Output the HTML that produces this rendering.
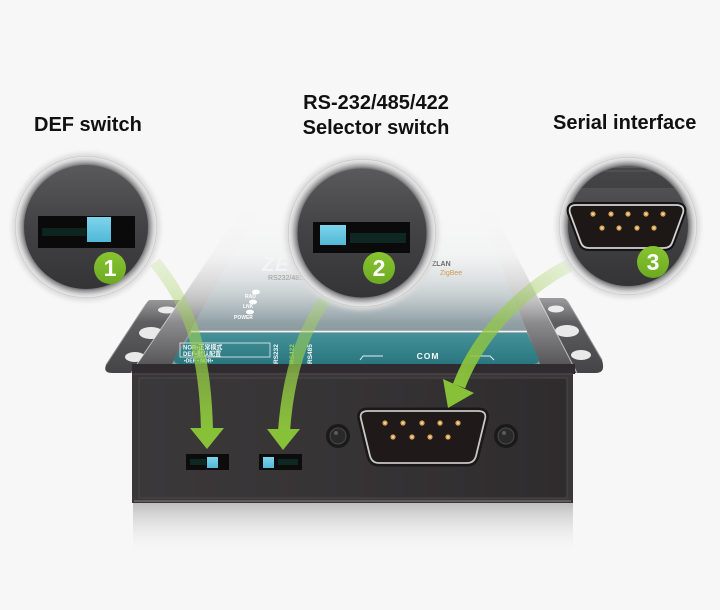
<!DOCTYPE html>
<html><head><meta charset="utf-8">
<style>
html,body{margin:0;padding:0;background:#f7f7f7;}
svg{display:block;}
.t{font-family:"Liberation Sans",Arial,sans-serif;font-weight:bold;}
</style></head><body>
<svg width="720" height="610" viewBox="0 0 720 610" xmlns="http://www.w3.org/2000/svg">
<defs>
 <linearGradient id="rim" x1="0" y1="212" x2="0" y2="373" gradientUnits="userSpaceOnUse">
  <stop offset="0" stop-color="#e2e2e4"/><stop offset="0.55" stop-color="#a8a8aa"/><stop offset="1" stop-color="#4c4b4d"/>
 </linearGradient>
 <linearGradient id="surf" x1="0" y1="212" x2="0" y2="331" gradientUnits="userSpaceOnUse">
  <stop offset="0" stop-color="#eceff0"/><stop offset="1" stop-color="#8a9ba0"/>
 </linearGradient>
 <linearGradient id="teal" x1="0" y1="332" x2="0" y2="364" gradientUnits="userSpaceOnUse">
  <stop offset="0" stop-color="#45929a"/><stop offset="1" stop-color="#2a7680"/>
 </linearGradient>
 <linearGradient id="fade" x1="0" y1="200" x2="0" y2="322" gradientUnits="userSpaceOnUse">
  <stop offset="0" stop-color="#f7f7f7" stop-opacity="1"/>
  <stop offset="0.45" stop-color="#f7f7f7" stop-opacity="0.9"/>
  <stop offset="0.75" stop-color="#f7f7f7" stop-opacity="0.45"/>
  <stop offset="1" stop-color="#f7f7f7" stop-opacity="0"/>
 </linearGradient>
 <linearGradient id="front" x1="0" y1="0" x2="1" y2="0">
  <stop offset="0" stop-color="#3b383a"/><stop offset="0.5" stop-color="#363335"/><stop offset="1" stop-color="#2f2c2e"/>
 </linearGradient>
 <linearGradient id="refl" x1="0" y1="503" x2="0" y2="555" gradientUnits="userSpaceOnUse">
  <stop offset="0" stop-color="#bfbfbf"/><stop offset="1" stop-color="#f7f7f7" stop-opacity="0"/>
 </linearGradient>
 <linearGradient id="ear" x1="0" y1="0" x2="0" y2="1">
  <stop offset="0" stop-color="#6a6a6c"/><stop offset="1" stop-color="#444446"/>
 </linearGradient>
 <radialGradient id="ring" cx="0.5" cy="0.5" r="0.5">
  <stop offset="0.87" stop-color="#6e6e70"/>
  <stop offset="0.9" stop-color="#9a9a9c"/>
  <stop offset="0.95" stop-color="#d2d2d2"/>
  <stop offset="0.985" stop-color="#e6e6e6"/>
  <stop offset="1" stop-color="#bdbdbd"/>
 </radialGradient>
 <linearGradient id="disc" x1="0" y1="0" x2="0" y2="1">
  <stop offset="0" stop-color="#5a5a5c"/><stop offset="0.45" stop-color="#444446"/><stop offset="1" stop-color="#343436"/>
 </linearGradient>
 <linearGradient id="badge" x1="0" y1="0" x2="0" y2="1">
  <stop offset="0" stop-color="#88c531"/><stop offset="1" stop-color="#6daa22"/>
 </linearGradient>
 <linearGradient id="knob" x1="0" y1="0" x2="0" y2="1">
  <stop offset="0" stop-color="#7dd4ec"/><stop offset="1" stop-color="#52b8d6"/>
 </linearGradient>
 <linearGradient id="a1" x1="0" y1="262" x2="0" y2="430" gradientUnits="userSpaceOnUse">
  <stop offset="0" stop-color="#b5d97a" stop-opacity="0.25"/>
  <stop offset="0.55" stop-color="#95c948" stop-opacity="0.7"/>
  <stop offset="1" stop-color="#89c23a" stop-opacity="1"/>
 </linearGradient>
 <linearGradient id="a2" x1="0" y1="280" x2="0" y2="430" gradientUnits="userSpaceOnUse">
  <stop offset="0" stop-color="#b5d97a" stop-opacity="0.25"/>
  <stop offset="0.55" stop-color="#95c948" stop-opacity="0.7"/>
  <stop offset="1" stop-color="#89c23a" stop-opacity="1"/>
 </linearGradient>
 <linearGradient id="a3" x1="570" y1="265" x2="460" y2="385" gradientUnits="userSpaceOnUse">
  <stop offset="0" stop-color="#b5d97a" stop-opacity="0.25"/>
  <stop offset="0.55" stop-color="#95c948" stop-opacity="0.7"/>
  <stop offset="1" stop-color="#89c23a" stop-opacity="1"/>
 </linearGradient>
 <filter id="blur" x="-20%" y="-20%" width="140%" height="140%"><feGaussianBlur stdDeviation="2.5"/></filter>
 <clipPath id="c3"><circle cx="628" cy="226" r="60"/></clipPath>
</defs>

<rect x="0" y="0" width="720" height="610" fill="#f7f7f7"/>

<!-- Titles -->
<text class="t" x="34" y="131" font-size="20" fill="#111">DEF switch</text>
<text class="t" x="376" y="109" font-size="20" fill="#111" text-anchor="middle">RS-232/485/422</text>
<text class="t" x="376" y="134" font-size="20" fill="#111" text-anchor="middle">Selector switch</text>
<text class="t" x="553" y="129" font-size="20" fill="#111">Serial interface</text>

<!-- Ears -->
<path d="M150 300 L182 300 L182 373 L112 373 Q103 373 106 365 L146 304 Q148 300 150 300 Z" fill="url(#ear)"/>
<path d="M146 304 L106 365" stroke="#8c8c8e" stroke-width="1"/>
<ellipse cx="167" cy="310" rx="9" ry="3.5" fill="#e9e9e9"/>
<ellipse cx="151" cy="333" rx="12" ry="6" fill="#e9e9e9"/>
<ellipse cx="135" cy="357" rx="10" ry="5" fill="#e9e9e9"/>

<path d="M535 298 L562 298 Q566 298 568 302 L602 360 Q606 373 596 373 L570 373 Z" fill="url(#ear)"/>
<path d="M568 302 L602 360" stroke="#8c8c8e" stroke-width="1"/>
<ellipse cx="556" cy="309" rx="8" ry="3.5" fill="#e9e9e9"/>
<ellipse cx="567" cy="331" rx="12" ry="6" fill="#e9e9e9"/>
<ellipse cx="581" cy="355" rx="10" ry="5" fill="#e9e9e9"/>

<!-- Cover -->
<polygon points="240,212 494,212 577,373 131,373" fill="url(#rim)"/>
<path d="M240 212 L131 373 M494 212 L577 373" stroke="#e4e4e4" stroke-width="1" opacity="0.7"/>
<polygon points="256,212 480,212 540,364 172,364" fill="url(#surf)"/>
<line x1="191" y1="331.5" x2="527" y2="331.5" stroke="#f3f6f6" stroke-width="1.6"/>
<path d="M192 333 L527 333 L538 357 Q541 364 533 364 L180 364 Q172 364 175 357 Z" fill="url(#teal)"/>

<!-- Top labels -->
<g fill="#f4f8f8" font-family="Liberation Sans, Arial, 'Noto Sans CJK SC', sans-serif">
 <rect x="180" y="343" width="90" height="14" fill="none" stroke="#eaf2f2" stroke-width="0.8"/>
 <text x="183" y="349.5" font-size="6" font-weight="bold">NOR•正常模式</text>
 <text x="183" y="356" font-size="6" font-weight="bold">DEF•默认配置</text>
 <text x="184" y="362.5" font-size="5" font-weight="bold">•DEF • NOR•</text>
 <text transform="translate(278,364) rotate(-90)" font-size="6.5" font-weight="bold">RS232</text>
 <text transform="translate(294,364) rotate(-90)" font-size="6.5" font-weight="bold" fill="#a9d45a">RS422</text>
 <text transform="translate(312,364) rotate(-90)" font-size="6.5" font-weight="bold">RS485</text>
 <text x="428" y="359" font-size="8.5" font-weight="bold" text-anchor="middle" letter-spacing="1">COM</text>
</g>
<path d="M360 360 L363 356 L383 356 M470 356 L490 356 L494 360" stroke="#e4eeee" stroke-width="1" fill="none"/>

<!-- Lip -->
<rect x="132" y="364" width="443" height="10" fill="#2e2c2e"/>

<!-- Fade overlay -->
<rect x="95" y="200" width="520" height="122" fill="url(#fade)"/>

<!-- Logo and LED marks -->
<text class="t" x="262" y="271" font-size="20" font-style="italic" fill="#f4f4f4" letter-spacing="1">ZE</text>
<text x="268" y="280" font-size="7" fill="#9a9a9a" font-family="Liberation Sans, sans-serif">RS232/485/422</text>
<text x="432" y="266" font-size="7" fill="#6a6a6a" font-family="Liberation Sans, sans-serif" font-weight="bold">ZLAN</text>
<text x="440" y="275" font-size="7" fill="#d09a50" font-family="Liberation Sans, sans-serif">ZigBee</text>
<g fill="#ffffff">
 <ellipse cx="256" cy="292" rx="4" ry="2.4"/>
 <ellipse cx="253" cy="302" rx="4" ry="2.4"/>
 <ellipse cx="250" cy="312" rx="4" ry="2.4"/>
</g>
<g fill="#ffffff" font-size="5" font-family="Liberation Sans, sans-serif" font-weight="bold">
 <text x="245" y="298">RAD</text>
 <text x="243" y="308">LNK</text>
 <text x="234" y="319">POWER</text>
</g>

<!-- Front face -->
<rect x="132" y="373" width="441" height="130" fill="#3a3739"/>
<rect x="139" y="378" width="428" height="120" fill="url(#front)" stroke="#4b4749" stroke-width="1"/>
<line x1="134" y1="501" x2="571" y2="501" stroke="#6d696b" stroke-width="1.5"/>
<line x1="133" y1="374" x2="572" y2="374" stroke="#4e4a4c" stroke-width="1"/>

<!-- Front switches -->
<rect x="186" y="454" width="43" height="16" fill="#0c0c0c"/>
<rect x="190" y="459" width="16" height="6" fill="#123a33" opacity="0.6"/>
<rect x="207" y="457" width="11" height="11" fill="url(#knob)"/>
<rect x="259" y="454" width="43" height="16" fill="#0c0c0c"/>
<rect x="278" y="459" width="20" height="6" fill="#123a33" opacity="0.6"/>
<rect x="263" y="457" width="11" height="11" fill="url(#knob)"/>

<!-- Screws -->
<circle cx="338" cy="436" r="12" fill="#1a1a1a"/>
<circle cx="338" cy="436" r="8" fill="#2b2a2b" stroke="#4a4a4a" stroke-width="1"/>
<circle cx="336" cy="433" r="2" fill="#5a5a5a"/>
<circle cx="506" cy="436" r="12" fill="#1a1a1a"/>
<circle cx="506" cy="436" r="8" fill="#2b2a2b" stroke="#4a4a4a" stroke-width="1"/>
<circle cx="504" cy="433" r="2" fill="#5a5a5a"/>

<!-- Front DB9 -->
<path d="M368 411 L478 411 Q487 411 485 419 L476 456 Q474 463 467 463 L379 463 Q372 463 370 456 L361 419 Q359 411 368 411 Z" fill="none" stroke="#1a1818" stroke-width="7"/>
<path d="M368 411 L478 411 Q487 411 485 419 L476 456 Q474 463 467 463 L379 463 Q372 463 370 456 L361 419 Q359 411 368 411 Z" fill="#1f1a19" stroke="#c6c6c6" stroke-width="1.8"/>
<g fill="#d9a35a">
 <circle cx="385" cy="423" r="2.6"/><circle cx="403" cy="423" r="2.6"/><circle cx="422" cy="423" r="2.6"/><circle cx="440" cy="423" r="2.6"/><circle cx="458" cy="423" r="2.6"/>
 <circle cx="393" cy="437" r="2.6"/><circle cx="412" cy="437" r="2.6"/><circle cx="430" cy="437" r="2.6"/><circle cx="448" cy="437" r="2.6"/>
</g>
<g fill="#f7e0b0">
 <circle cx="385" cy="423" r="1"/><circle cx="403" cy="423" r="1"/><circle cx="422" cy="423" r="1"/><circle cx="440" cy="423" r="1"/><circle cx="458" cy="423" r="1"/>
 <circle cx="393" cy="437" r="1"/><circle cx="412" cy="437" r="1"/><circle cx="430" cy="437" r="1"/><circle cx="448" cy="437" r="1"/>
</g>

<!-- Reflection -->
<rect x="133" y="503" width="440" height="52" fill="url(#refl)"/>

<!-- Arrows -->
<path d="M155 262 C185 300 205 340 207 430" stroke="url(#a1)" stroke-width="12" fill="none"/>
<polygon points="190,428 224,428 207,449" fill="#87c138"/>
<path d="M340 280 C315 310 290 350 284 431" stroke="url(#a2)" stroke-width="12" fill="none"/>
<polygon points="267,429 300,429 283,450" fill="#87c138"/>
<path d="M570 265 C530 285 480 330 459 386" stroke="url(#a3)" stroke-width="13" fill="none"/>
<polygon points="443,379 474,393 448,408" fill="#87c138"/>

<!-- Circle 1 -->
<circle cx="86" cy="227" r="74" fill="#dcdcdc" filter="url(#blur)"/>
<circle cx="86" cy="227" r="71" fill="url(#ring)"/>
<circle cx="86" cy="227" r="62" fill="url(#disc)"/>
<rect x="38" y="216" width="97" height="32" fill="#0a0a0a"/>
<rect x="42" y="228" width="44" height="8" fill="#113a32" opacity="0.55"/>
<rect x="87" y="217" width="24" height="25" fill="url(#knob)"/>
<circle cx="110" cy="268" r="16" fill="url(#badge)"/>
<text class="t" x="110" y="276" font-size="23" fill="#fff" text-anchor="middle">1</text>

<!-- Circle 2 -->
<circle cx="362" cy="233" r="77" fill="#dcdcdc" filter="url(#blur)"/>
<circle cx="362" cy="233" r="74" fill="url(#ring)"/>
<circle cx="362" cy="233" r="64.5" fill="url(#disc)"/>
<rect x="313" y="222" width="97" height="31" fill="#0a0a0a"/>
<rect x="350" y="233" width="56" height="10" fill="#103a33" opacity="0.6"/>
<rect x="320" y="225" width="26" height="20" fill="url(#knob)"/>
<circle cx="379" cy="268" r="16" fill="url(#badge)"/>
<text class="t" x="379" y="276" font-size="23" fill="#fff" text-anchor="middle">2</text>

<!-- Circle 3 -->
<circle cx="628" cy="226" r="72" fill="#dcdcdc" filter="url(#blur)"/>
<circle cx="628" cy="226" r="69" fill="url(#ring)"/>
<circle cx="628" cy="226" r="60" fill="url(#disc)"/>
<g clip-path="url(#c3)">
 <rect x="560" y="168" width="140" height="20" fill="#2a2a2c" opacity="0.4"/>
 <line x1="560" y1="171" x2="700" y2="171" stroke="#5a5a5c" stroke-width="1"/>
</g>
<path d="M576 205 L676 205 Q685 205 683 213 L672 243 Q670 248 664 248 L589 248 Q583 248 581 243 L570 213 Q568 205 576 205 Z" fill="none" stroke="#151313" stroke-width="6"/>
<path d="M576 205 L676 205 Q685 205 683 213 L672 243 Q670 248 664 248 L589 248 Q583 248 581 243 L570 213 Q568 205 576 205 Z" fill="#1d1716" stroke="#d2d2d2" stroke-width="1.8"/>
<g fill="#d9a35a">
 <circle cx="593" cy="214" r="2.6"/><circle cx="611" cy="214" r="2.6"/><circle cx="628" cy="214" r="2.6"/><circle cx="646" cy="214" r="2.6"/><circle cx="663" cy="214" r="2.6"/>
 <circle cx="602" cy="228" r="2.6"/><circle cx="619" cy="228" r="2.6"/><circle cx="637" cy="228" r="2.6"/><circle cx="654" cy="228" r="2.6"/>
</g>
<g fill="#f7e0b0">
 <circle cx="593" cy="214" r="1"/><circle cx="611" cy="214" r="1"/><circle cx="628" cy="214" r="1"/><circle cx="646" cy="214" r="1"/><circle cx="663" cy="214" r="1"/>
 <circle cx="602" cy="228" r="1"/><circle cx="619" cy="228" r="1"/><circle cx="637" cy="228" r="1"/><circle cx="654" cy="228" r="1"/>
</g>
<circle cx="653" cy="262" r="16" fill="url(#badge)"/>
<text class="t" x="653" y="270" font-size="23" fill="#fff" text-anchor="middle">3</text>
</svg>
</body></html>
